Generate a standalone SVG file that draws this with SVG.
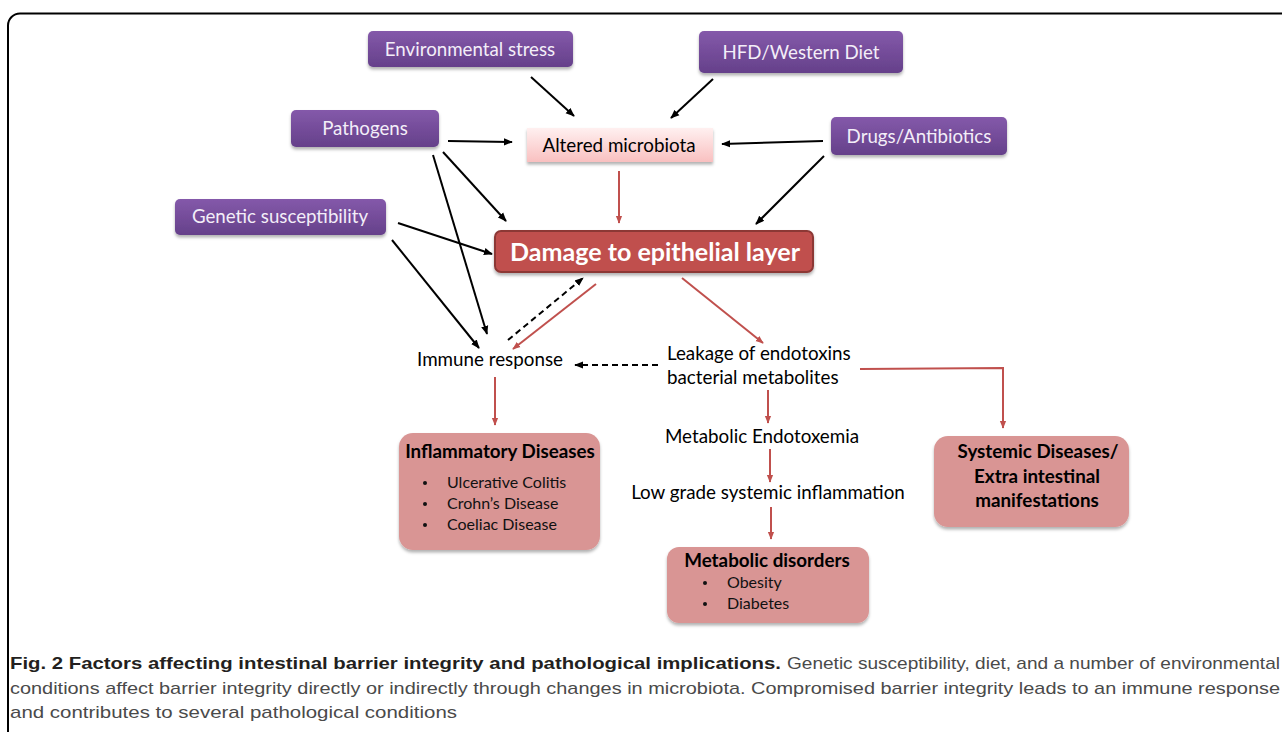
<svg xmlns="http://www.w3.org/2000/svg" width="1282" height="732" viewBox="0 0 1282 732">
<defs>
<linearGradient id="gPurple" x1="0" y1="0" x2="0" y2="1">
<stop offset="0" stop-color="#8459aa"/>
<stop offset="1" stop-color="#65408a"/>
</linearGradient>
<linearGradient id="gPink" x1="0" y1="0" x2="0" y2="1">
<stop offset="0" stop-color="#fff0f0"/>
<stop offset="1" stop-color="#f9c0c0"/>
</linearGradient>
<filter id="sh" x="-10%" y="-10%" width="120%" height="140%">
<feDropShadow dx="0" dy="2.5" stdDeviation="1.5" flood-color="#000" flood-opacity="0.3"/>
</filter>
<marker id="aB" viewBox="0 0 10 10" refX="9" refY="5" markerWidth="9" markerHeight="9" markerUnits="userSpaceOnUse" orient="auto">
<path d="M0,1 L10,5 L0,9 Z" fill="#000"/>
</marker>
<marker id="aR" viewBox="0 0 10 10" refX="9" refY="5" markerWidth="8" markerHeight="8" markerUnits="userSpaceOnUse" orient="auto">
<path d="M0,1 L10,5 L0,9 Z" fill="#c0504d"/>
</marker>
<style>
.pur{fill:url(#gPurple);filter:url(#sh)}
.pt{font-family:Lato,"Liberation Sans",sans-serif;font-size:18.7px;fill:#f3eef8;text-anchor:middle}
.pk{fill:#d99594;filter:url(#sh)}
.t{font-family:Lato,"Liberation Sans",sans-serif;font-size:18.8px;fill:#000}
.li{font-family:Lato,"Liberation Sans",sans-serif;font-size:16px;fill:#111}
.tb{font-family:Lato,"Liberation Sans",sans-serif;font-size:18.8px;font-weight:bold;fill:#000}
.bk{stroke:#000;stroke-width:2;fill:none;marker-end:url(#aB)}
.dbk{stroke:#000;stroke-width:2;fill:none;stroke-dasharray:6,4;marker-end:url(#aB)}
.rd{stroke:#c0504d;stroke-width:2;fill:none;marker-end:url(#aR)}
.cap{font-family:"Liberation Sans",sans-serif;font-size:17px}
</style>
</defs>
<rect x="0" y="0" width="1282" height="732" fill="#fff"/>
<rect x="8" y="13.5" width="1300" height="740" rx="12" fill="none" stroke="#000" stroke-width="2"/>

<g id="connectors">
<line class="bk" x1="531" y1="77" x2="574" y2="116"/>
<line class="bk" x1="713" y1="79" x2="671" y2="118"/>
<line class="bk" x1="448" y1="141" x2="512" y2="142"/>
<line class="bk" x1="823" y1="141" x2="722" y2="144"/>
<line class="bk" x1="443" y1="152" x2="506" y2="221"/>
<line class="bk" x1="433" y1="155" x2="487" y2="334"/>
<line class="bk" x1="398" y1="223" x2="492" y2="254"/>
<line class="bk" x1="392" y1="240" x2="479" y2="348"/>
<line class="bk" x1="824" y1="156" x2="756" y2="224"/>
<line class="rd" x1="619" y1="171" x2="619" y2="223"/>
<line class="dbk" x1="508" y1="340" x2="583" y2="278"/>
<line class="rd" x1="596" y1="284" x2="513" y2="349"/>
<line class="rd" x1="682" y1="278" x2="763" y2="343"/>
<line class="dbk" x1="658" y1="365" x2="575" y2="365"/>
<polyline class="rd" points="860,369 1003,368 1003,428"/>
<line class="rd" x1="768" y1="390" x2="768" y2="423"/>
<line class="rd" x1="770" y1="449" x2="770" y2="482"/>
<line class="rd" x1="771" y1="507" x2="771" y2="539"/>
<line class="rd" x1="495" y1="377" x2="495" y2="425"/>
</g>

<g id="env">
<rect class="pur" x="368" y="31" width="205" height="36" rx="5"/>
<text class="pt" x="470" y="56">Environmental stress</text>
</g>
<g id="hfd">
<rect class="pur" x="699" y="31" width="204" height="42" rx="5"/>
<text class="pt" x="801" y="59">HFD/Western Diet</text>
</g>
<g id="pathogens">
<rect class="pur" x="291" y="110" width="148" height="37" rx="5"/>
<text class="pt" x="365" y="135">Pathogens</text>
</g>
<g id="drugs">
<rect class="pur" x="831" y="117" width="176" height="38" rx="5"/>
<text class="pt" x="919" y="143">Drugs/Antibiotics</text>
</g>
<g id="genetic">
<rect class="pur" x="175" y="199" width="211" height="36" rx="5"/>
<text class="pt" x="280" y="223">Genetic susceptibility</text>
</g>
<g id="altered">
<rect x="527" y="128" width="186" height="34" fill="url(#gPink)" filter="url(#sh)"/>
<text class="t" x="619" y="152" text-anchor="middle">Altered microbiota</text>
</g>
<g id="damage">
<rect x="495" y="231" width="318" height="41" rx="6" fill="#c0504d" stroke="#8c3836" stroke-width="2" filter="url(#sh)"/>
<text x="510" y="261" font-family="Lato,'Liberation Sans',sans-serif" font-size="24" font-weight="bold" fill="#fff" textLength="290" lengthAdjust="spacingAndGlyphs">Damage to epithelial layer</text>
</g>
<g id="immune">
<text class="t" x="490" y="366" text-anchor="middle">Immune response</text>
</g>
<g id="leakage">
<text class="t" x="667" y="360">Leakage of endotoxins</text>
<text class="t" x="667" y="384">bacterial metabolites</text>
</g>
<g id="endotoxemia">
<text class="t" x="762" y="443" text-anchor="middle">Metabolic Endotoxemia</text>
</g>
<g id="lowgrade">
<text class="t" x="768" y="499" text-anchor="middle">Low grade systemic inflammation</text>
</g>
<g id="inflammatory">
<rect class="pk" x="399" y="433" width="201" height="117" rx="14"/>
<text class="tb" x="500" y="458" text-anchor="middle">Inflammatory Diseases</text>
<circle cx="425" cy="483" r="2" fill="#111"/>
<text class="li" x="447" y="488">Ulcerative Colitis</text>
<circle cx="425" cy="504" r="2" fill="#111"/>
<text class="li" x="447" y="509">Crohn’s Disease</text>
<circle cx="425" cy="525" r="2" fill="#111"/>
<text class="li" x="447" y="530">Coeliac Disease</text>
</g>
<g id="metabolic">
<rect class="pk" x="667" y="547" width="202" height="76" rx="12"/>
<text class="tb" x="767" y="567" text-anchor="middle">Metabolic disorders</text>
<circle cx="705" cy="583" r="2" fill="#111"/>
<text class="li" x="727" y="588">Obesity</text>
<circle cx="705" cy="604" r="2" fill="#111"/>
<text class="li" x="727" y="609">Diabetes</text>
</g>
<g id="systemic">
<rect class="pk" x="934" y="436" width="195" height="91" rx="14"/>
<text class="tb" x="1038" y="458" text-anchor="middle">Systemic Diseases/</text>
<text class="tb" x="1037" y="483" text-anchor="middle">Extra intestinal</text>
<text class="tb" x="1037" y="507" text-anchor="middle">manifestations</text>
</g>

<g id="caption">
<text class="cap" x="10" y="669" font-weight="bold" fill="#231f20" textLength="771" lengthAdjust="spacingAndGlyphs">Fig. 2 Factors affecting intestinal barrier integrity and pathological implications.</text>
<text class="cap" x="787" y="669" fill="#4a4a4a" textLength="493" lengthAdjust="spacingAndGlyphs">Genetic susceptibility, diet, and a number of environmental</text>
<text class="cap" x="10" y="694" fill="#4a4a4a" textLength="1270" lengthAdjust="spacingAndGlyphs">conditions affect barrier integrity directly or indirectly through changes in microbiota. Compromised barrier integrity leads to an immune response</text>
<text class="cap" x="10" y="718" fill="#4a4a4a" textLength="447" lengthAdjust="spacingAndGlyphs">and contributes to several pathological conditions</text>
</g>
</svg>
